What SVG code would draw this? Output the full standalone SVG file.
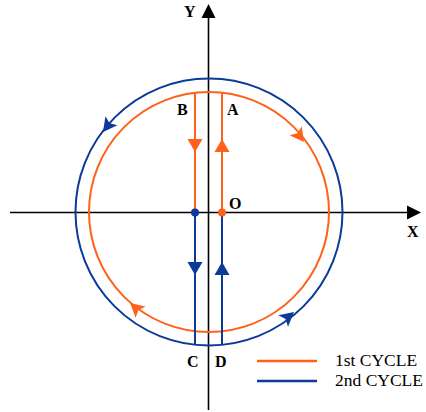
<svg xmlns="http://www.w3.org/2000/svg" width="426" height="412" viewBox="0 0 426 412">
<defs>
<style>
.ax{stroke:#000;stroke-width:1.6;fill:none}
.o{stroke:#FF6119;stroke-width:2;fill:none}
.b{stroke:#0B3A98;stroke-width:2;fill:none}
.of{fill:#FF6119}
.bf{fill:#0B3A98}
.lbl{font-family:"Liberation Serif","Times New Roman",serif;font-weight:bold;font-size:16px;fill:#000}
.leg{font-family:"Liberation Serif","Times New Roman",serif;font-size:17.5px;fill:#000}
</style>
<path id="ah" d="M0,0 L-14,-7.5 L-11,0 L-14,7.5 Z"/>
</defs>
<rect width="426" height="412" fill="#fff"/>
<g id="axes">
<line class="ax" x1="10" y1="212.5" x2="408" y2="212.5"/>
<polygon points="421,212.5 407,205.5 407,219.5" fill="#000"/>
<line class="ax" x1="208.5" y1="410" x2="208.5" y2="18"/>
<polygon points="208.5,4 201.5,18 215.5,18" fill="#000"/>
</g>
<g id="connectors">
<g id="cycle1">
<circle class="o" cx="209" cy="212" r="120"/>
<line class="o" x1="195" y1="92.8" x2="195" y2="212"/>
<line class="o" x1="222" y1="92.8" x2="222" y2="212"/>
<polygon class="of" points="187.5,139 202.5,139 195,152"/>
<polygon class="of" points="222,139 214.5,152 229.5,152"/>
<use href="#ah" class="of" transform="translate(304,142) rotate(53.6)"/>
<use href="#ah" class="of" transform="translate(130,303) rotate(221)"/>
</g>
<g id="cycle2">
<circle class="b" cx="209" cy="212" r="133.5"/>
<line class="b" x1="195" y1="212" x2="195" y2="344.8"/>
<line class="b" x1="222" y1="212" x2="222" y2="344.8"/>
<polygon class="bf" points="187.5,262 202.5,262 195,275"/>
<polygon class="bf" points="222,262 214.5,275 229.5,275"/>
<use href="#ah" class="bf" transform="translate(103,132) rotate(127)"/>
<use href="#ah" class="bf" transform="translate(294,312) rotate(-39.7)"/>
</g>
</g>
<g id="node-B-dot"><circle class="bf" cx="195" cy="212.5" r="4"/></g>
<g id="node-O-dot"><circle class="of" cx="222" cy="212.5" r="4"/></g>
<g id="labels">
<text class="lbl" x="184" y="17">Y</text>
<text class="lbl" x="407" y="237">X</text>
<text class="lbl" x="177" y="115">B</text>
<text class="lbl" x="227" y="115">A</text>
<text class="lbl" x="229" y="209">O</text>
<text class="lbl" x="187" y="367">C</text>
<text class="lbl" x="215" y="367">D</text>
</g>
<g id="legend">
<line class="o" x1="257" y1="361" x2="317" y2="361" style="stroke-width:2.5"/>
<line class="b" x1="257" y1="381" x2="317" y2="381" style="stroke-width:2.5"/>
<text class="leg" x="335" y="366">1st CYCLE</text>
<text class="leg" x="335" y="386">2nd CYCLE</text>
</g>
</svg>
